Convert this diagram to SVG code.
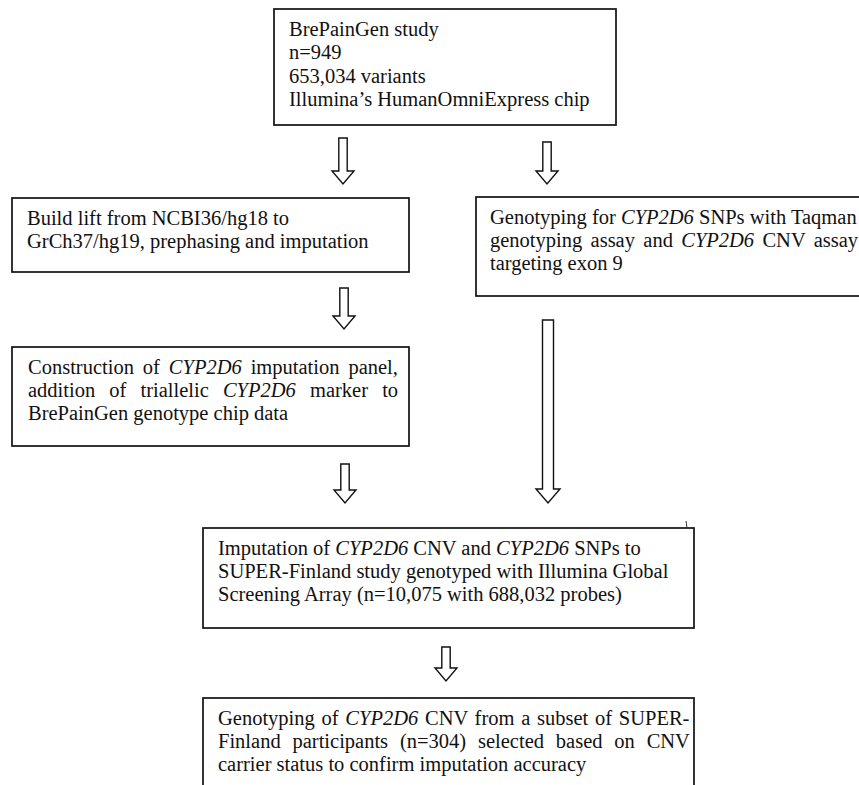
<svg xmlns="http://www.w3.org/2000/svg" width="859" height="785" viewBox="0 0 859 785">
<style>
.box{fill:#fff;stroke:#111;stroke-width:1.7}
.arr{fill:#fff;stroke:#111;stroke-width:1.4;stroke-linejoin:miter}
text{font-family:"Liberation Serif","Times New Roman",serif;font-size:20.5px;fill:#111}
.i{font-style:italic}
</style>
<rect width="859" height="785" fill="#fff"/>
<g id="connectors">
<path class="arr" d="M338.8,138 H347.2 V171 H354 L343,184 L332,171 H338.8 Z"/>
<path class="arr" d="M542.8,142 H551.2 V171 H558 L547,184 L536,171 H542.8 Z"/>
<path class="arr" d="M339.8,288 H348.2 V316 H355 L344,329 L333,316 H339.8 Z"/>
<path class="arr" d="M340.8,464 H349.2 V490 H356 L345,503 L334,490 H340.8 Z"/>
<path class="arr" d="M542.5,320 H553.5 V489 H560 L548,503 L536,489 H542.5 Z"/>
<path class="arr" d="M441.8,647 H450.2 V668 H457 L446,681 L435,668 H441.8 Z"/>
</g>
<g id="n-brepaingen">
<rect class="box" x="274" y="9" width="342" height="116"/>
<text x="289" y="36">BrePainGen study</text>
<text x="289" y="59.3">n=949</text>
<text x="289" y="82.6">653,034 variants</text>
<text x="289" y="106">Illumina’s HumanOmniExpress chip</text>
</g>
<g id="n-buildlift">
<rect class="box" x="12" y="198" width="397" height="74"/>
<text x="27" y="225">Build lift from NCBI36/hg18 to</text>
<text x="27" y="248">GrCh37/hg19, prephasing and imputation</text>
</g>
<g id="n-taqman">
<rect class="box" x="476" y="197" width="400" height="99"/>
<text x="490" y="224">Genotyping for <tspan class="i">CYP2D6</tspan> SNPs with Taqman</text>
<text x="490" y="247" style="word-spacing:3.2px">genotyping assay and <tspan class="i">CYP2D6</tspan> CNV assay</text>
<text x="490" y="270">targeting exon 9</text>
</g>
<g id="n-panel">
<rect class="box" x="12" y="347" width="397" height="99"/>
<text x="28" y="374" style="word-spacing:3.8px">Construction of <tspan class="i">CYP2D6</tspan> imputation panel,</text>
<text x="28" y="397" style="word-spacing:9px">addition of triallelic <tspan class="i">CYP2D6</tspan> marker to</text>
<text x="28" y="420">BrePainGen genotype chip data</text>
</g>
<g id="n-imputation">
<rect class="box" x="203" y="528" width="491" height="100"/>
<line x1="686" y1="521" x2="687" y2="528" stroke="#333" stroke-width="1"/>
<text x="218" y="555">Imputation of <tspan class="i">CYP2D6</tspan> CNV and <tspan class="i">CYP2D6</tspan> SNPs to</text>
<text x="218" y="578">SUPER-Finland study genotyped with Illumina Global</text>
<text x="218" y="601">Screening Array (n=10,075 with 688,032 probes)</text>
</g>
<g id="n-validation">
<rect class="box" x="203" y="698" width="491" height="110"/>
<text x="218" y="725" style="word-spacing:1.6px">Genotyping of <tspan class="i">CYP2D6</tspan> CNV from a subset of SUPER-</text>
<text x="218" y="748" style="word-spacing:6.7px">Finland participants (n=304) selected based on CNV</text>
<text x="218" y="771">carrier status to confirm imputation accuracy</text>
</g>
</svg>
